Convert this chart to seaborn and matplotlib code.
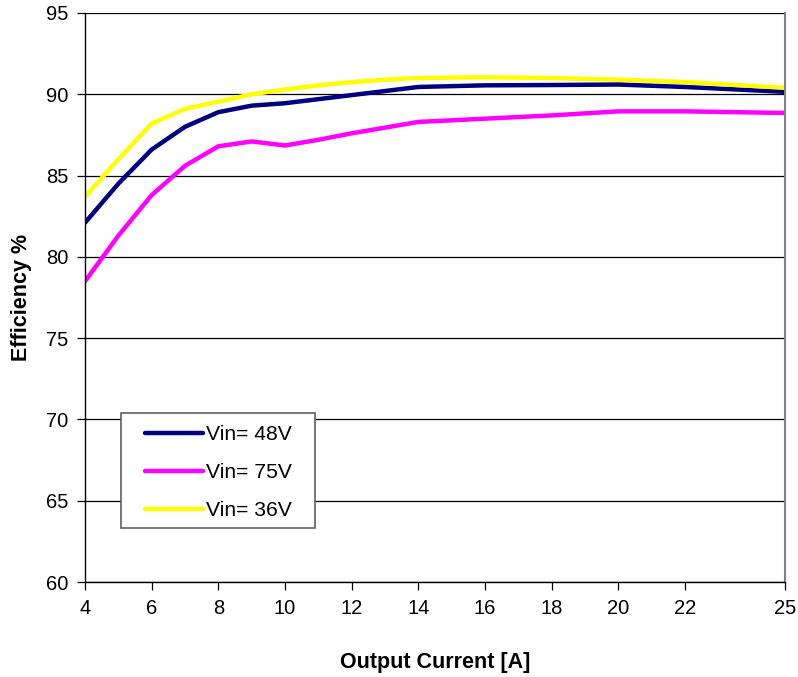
import pandas as pd
import numpy as np
import matplotlib
matplotlib.use("Agg")
import matplotlib.pyplot as plt
from matplotlib.patches import Rectangle
import seaborn as sns

# values
current = [4, 5, 6, 7, 8, 9, 10, 11, 12, 13, 14, 16, 18, 20, 22, 25]
eff_48v = [82.1, 84.5, 86.6, 88.0, 88.9, 89.3, 89.45, 89.7, 89.95, 90.2, 90.45, 90.55, 90.57, 90.6, 90.45, 90.15]
eff_75v = [78.5, 81.3, 83.8, 85.6, 86.8, 87.1, 86.85, 87.2, 87.6, 87.95, 88.3, 88.5, 88.7, 88.95, 88.95, 88.85]
eff_36v = [83.7, 86.0, 88.2, 89.1, 89.55, 90.0, 90.3, 90.55, 90.75, 90.9, 91.0, 91.05, 91.0, 90.9, 90.75, 90.4]
labels = ["Vin= 48V", "Vin= 75V", "Vin= 36V"]
colors = ["#000080", "#FF00FF", "#FFFF00"]

frames = []
for lab, vals in zip(labels, [eff_48v, eff_75v, eff_36v]):
    frames.append(pd.DataFrame({"current": current, "eff": vals, "series": lab}))
data = pd.concat(frames, ignore_index=True)

sns.set_style("white")
plt.rcParams['font.family'] = ['Liberation Sans', 'DejaVu Sans']
plt.rcParams['text.color'] = 'black'
plt.rcParams['axes.labelcolor'] = 'black'
plt.rcParams['xtick.color'] = 'black'
plt.rcParams['ytick.color'] = 'black'
plt.rcParams['lines.solid_joinstyle'] = 'round'

fig = plt.figure(figsize=(7.98, 6.77), dpi=100)
ax = fig.add_axes([85 / 798, 1 - 582 / 677, 700 / 798, 569 / 677])

sns.lineplot(data=data, x="current", y="eff", hue="series", hue_order=labels,
             palette=colors, linewidth=3.2, ax=ax, sort=False)

ax.set_xlim(4, 25)
ax.set_ylim(60, 95)
ax.set_xticks([4, 6, 8, 10, 12, 14, 16, 18, 20, 22, 25])
ax.set_yticks(np.arange(60, 96, 5))
ax.yaxis.grid(True, color="black", linewidth=0.9)
ax.set_axisbelow(True)
ax.tick_params(axis="both", direction="out", length=6, width=0.9, color="black",
               labelsize=14.5, labelcolor="black", bottom=True, left=True, pad=6)

for side in ["left", "bottom"]:
    ax.spines[side].set_color("black")
    ax.spines[side].set_linewidth(1)
ax.spines["top"].set_visible(False)
ax.spines["right"].set_color("#808080")
ax.spines["right"].set_linewidth(1.5)

ax.set_xlabel("Output Current [A]", fontsize=15.5, fontweight="bold", labelpad=25)
ax.set_ylabel("Efficiency %", fontsize=15.5, fontweight="bold", labelpad=10)

# legend without its own frame, box drawn separately to match the reference
leg = ax.legend(loc="upper left", bbox_to_anchor=(60 / 700, 157 / 569), borderaxespad=0,
                borderpad=0, fontsize=15.2, handlelength=2.75, handletextpad=0.12,
                labelspacing=0.9, frameon=False)
for h in leg.get_lines():
    h.set_linewidth(3.2)
ax.add_patch(Rectangle((36 / 700, 54 / 569), 194 / 700, 115 / 569, transform=ax.transAxes,
                       facecolor="white", edgecolor="#606060", linewidth=1.2, zorder=4))
leg.set_zorder(5)

plt.savefig("out.png", dpi=100)
plt.close()
